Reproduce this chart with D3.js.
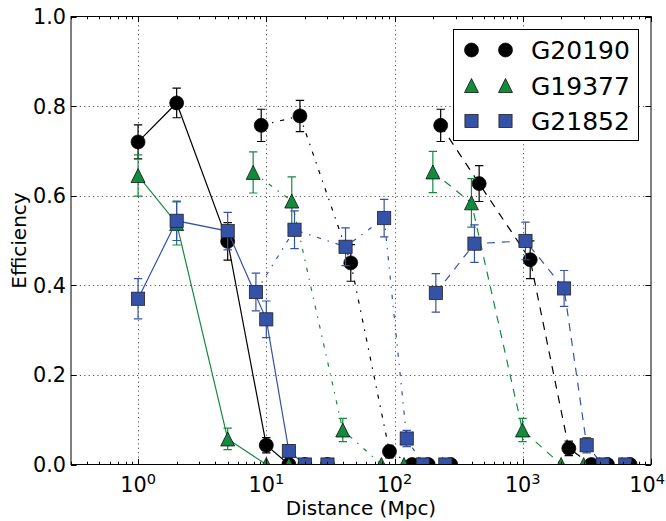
<!DOCTYPE html>
<html>
<head>
<meta charset="utf-8">
<script src="https://cdn.jsdelivr.net/npm/d3@7"></script>
<style>
  html, body { margin: 0; padding: 0; background: #fff; }
  svg { display: block; font-family: "DejaVu Sans", sans-serif; }
</style>
</head>
<body>
<svg id="chart" width="666" height="521"></svg>
<script>
// ---------------- data ----------------
const seriesNames = ["G20190", "G19377", "G21852"];
const xTickValues = [1, 10, 100, 1000, 10000];
const xTickExponents = ["0", "1", "2", "3", "4"];
const yTickValues = [0, 0.2, 0.4, 0.6, 0.8, 1.0];
const yTickLabels = ["0.0", "0.2", "0.4", "0.6", "0.8", "1.0"];

// G20190 (black circles)
const g20190_solid_x   = [1, 2, 5, 10, 15, 20, 30];
const g20190_solid_y   = [0.72, 0.807, 0.498, 0.043, 0, 0, 0];
const g20190_solid_e   = [0.038, 0.033, 0.042, 0.017, 0, 0, 0];
const g20190_dashdot_x = [9.13, 18.3, 45.6, 91.3, 137, 183, 274];
const g20190_dashdot_y = [0.757, 0.778, 0.45, 0.029, 0, 0, 0];
const g20190_dashdot_e = [0.036, 0.035, 0.041, 0.014, 0, 0, 0];
const g20190_dashed_x  = [229, 457, 1143, 2287, 3430, 4574, 6861];
const g20190_dashed_y  = [0.757, 0.627, 0.457, 0.036, 0, 0, 0];
const g20190_dashed_e  = [0.036, 0.04, 0.042, 0.016, 0, 0, 0];

// G19377 (green triangles)
const g19377_solid_x   = [1, 2, 5, 10, 15, 20, 30];
const g19377_solid_y   = [0.645, 0.538, 0.057, 0, 0, 0, 0];
const g19377_solid_e   = [0.046, 0.048, 0.024, 0, 0, 0, 0];
const g19377_dashdot_x = [7.9, 15.8, 39.5, 79, 118.5, 158, 237];
const g19377_dashdot_y = [0.652, 0.588, 0.077, 0, 0, 0, 0];
const g19377_dashdot_e = [0.046, 0.054, 0.026, 0, 0, 0, 0];
const g19377_dashed_x  = [199, 398, 995, 1990, 2985, 3980, 5970];
const g19377_dashed_y  = [0.653, 0.584, 0.077, 0, 0, 0, 0];
const g19377_dashed_e  = [0.046, 0.054, 0.026, 0, 0, 0, 0];

// G21852 (blue squares)
const g21852_solid_x   = [1, 2, 5, 10, 15, 20, 30];
const g21852_solid_y   = [0.37, 0.544, 0.521, 0.324, 0.03, 0, 0];
const g21852_solid_e   = [0.045, 0.044, 0.042, 0.041, 0.014, 0, 0];
const g21852_dashdot_x = [8.3, 16.6, 41.5, 83, 124.5, 166, 249];
const g21852_dashdot_y = [0.385, 0.524, 0.486, 0.55, 0.058, 0, 0];
const g21852_dashdot_e = [0.042, 0.042, 0.042, 0.042, 0.018, 0, 0];
const g21852_dashed_x  = [210, 420, 1050, 2100, 3150, 4200, 6300];
const g21852_dashed_y  = [0.383, 0.493, 0.499, 0.393, 0.043, 0, 0];
const g21852_dashed_e  = [0.043, 0.042, 0.042, 0.04, 0.017, 0, 0];

// ---------------- styling ----------------
const colorOf = { G20190: "#000000", G19377: "#138a3d", G21852: "#3453a8" };
const markerOf = { G20190: "circle", G19377: "triangle", G21852: "square" };
const dashOf = { solid: null, dashdot: "4.2,6.9,1.4,6.9", dashed: "8,7" };

const series = [
  { name: "G20190", style: "solid",   x: g20190_solid_x,   y: g20190_solid_y,   e: g20190_solid_e },
  { name: "G20190", style: "dashdot", x: g20190_dashdot_x, y: g20190_dashdot_y, e: g20190_dashdot_e },
  { name: "G20190", style: "dashed",  x: g20190_dashed_x,  y: g20190_dashed_y,  e: g20190_dashed_e },
  { name: "G19377", style: "solid",   x: g19377_solid_x,   y: g19377_solid_y,   e: g19377_solid_e },
  { name: "G19377", style: "dashdot", x: g19377_dashdot_x, y: g19377_dashdot_y, e: g19377_dashdot_e },
  { name: "G19377", style: "dashed",  x: g19377_dashed_x,  y: g19377_dashed_y,  e: g19377_dashed_e },
  { name: "G21852", style: "solid",   x: g21852_solid_x,   y: g21852_solid_y,   e: g21852_solid_e },
  { name: "G21852", style: "dashdot", x: g21852_dashdot_x, y: g21852_dashdot_y, e: g21852_dashdot_e },
  { name: "G21852", style: "dashed",  x: g21852_dashed_x,  y: g21852_dashed_y,  e: g21852_dashed_e },
];

// ---------------- layout ----------------
const svg = d3.select("#chart");
const L = 71, R = 651, T = 16.5, B = 464.5;

const x = d3.scaleLog().domain([0.3, 10000]).range([L, R]);
const y = d3.scaleLinear().domain([0, 1]).range([B, T]);

svg.append("defs").append("clipPath").attr("id", "clip")
  .append("rect").attr("x", L).attr("y", T).attr("width", R - L).attr("height", B - T);

// grid
const grid = svg.append("g");
xTickValues.forEach(v => {
  const px = Math.round(x(v)) + 0.5;
  if (px > L + 1 && px < R - 1)
    grid.append("line").attr("x1", px).attr("x2", px).attr("y1", T).attr("y2", B)
      .attr("stroke", "#555").attr("stroke-width", 1).attr("stroke-dasharray", "1.2,3.2");
});
yTickValues.forEach(v => {
  const py = Math.round(y(v)) + 0.5;
  if (py > T + 1 && py < B - 1)
    grid.append("line").attr("x1", L).attr("x2", R).attr("y1", py).attr("y2", py)
      .attr("stroke", "#555").attr("stroke-width", 1).attr("stroke-dasharray", "1.2,3.2");
});

// markers
function drawMarker(g, type, cx, cy, color, s) {
  if (type === "circle") {
    g.append("circle").attr("cx", cx).attr("cy", cy).attr("r", s / 2)
      .attr("fill", color).attr("stroke", "#000").attr("stroke-width", 0.7);
  } else if (type === "triangle") {
    const h = s / 2;
    g.append("path").attr("d", `M${cx},${cy - h}L${cx - h},${cy + h}L${cx + h},${cy + h}Z`)
      .attr("fill", color).attr("stroke", "#000").attr("stroke-width", 0.7);
  } else {
    const h = s * 0.47;
    g.append("rect").attr("x", cx - h).attr("y", cy - h).attr("width", 2 * h).attr("height", 2 * h)
      .attr("fill", color).attr("stroke", "#222").attr("stroke-width", 0.8);
  }
}

const dataG = svg.append("g").attr("clip-path", "url(#clip)");
const line = d3.line().x(d => x(d[0])).y(d => y(d[1]));

series.forEach(s => {
  const color = colorOf[s.name];
  const pts = s.x.map((xv, i) => [xv, s.y[i], s.e[i]]);
  const g = dataG.append("g");
  const p = g.append("path").datum(pts).attr("d", line)
    .attr("fill", "none").attr("stroke", color).attr("stroke-width", 1.2);
  if (dashOf[s.style]) p.attr("stroke-dasharray", dashOf[s.style]);
  // error bars
  pts.forEach(d => {
    if (d[2] > 0) {
      const cx = x(d[0]);
      const y1 = y(d[1] - d[2]), y2 = y(d[1] + d[2]);
      g.append("line").attr("x1", cx).attr("x2", cx).attr("y1", y1).attr("y2", y2)
        .attr("stroke", color).attr("stroke-width", 1.2);
      [y1, y2].forEach(yy => g.append("line").attr("x1", cx - 4.2).attr("x2", cx + 4.2)
        .attr("y1", yy).attr("y2", yy).attr("stroke", color).attr("stroke-width", 1.2));
    }
  });
  pts.forEach(d => drawMarker(g, markerOf[s.name], x(d[0]), y(d[1]), color, 14));
});

// frame
svg.append("rect").attr("x", L).attr("y", T).attr("width", R - L).attr("height", B - T)
  .attr("fill", "none").attr("stroke", "#000").attr("stroke-width", 1);

// ticks (inward, all four sides)
const tickG = svg.append("g").attr("stroke", "#000").attr("stroke-width", 1);
const minorX = [];
for (let dec = -1; dec < 4; dec++) {
  for (let m = 2; m <= 9; m++) {
    const v = m * Math.pow(10, dec);
    if (v > 0.3 && v < 10000) minorX.push(v);
  }
}
xTickValues.forEach(v => {
  const px = Math.round(x(v)) + 0.5;
  tickG.append("line").attr("x1", px).attr("x2", px).attr("y1", B).attr("y2", B - 5.6);
  tickG.append("line").attr("x1", px).attr("x2", px).attr("y1", T).attr("y2", T + 5.6);
});
minorX.forEach(v => {
  const px = Math.round(x(v)) + 0.5;
  tickG.append("line").attr("x1", px).attr("x2", px).attr("y1", B).attr("y2", B - 2.8);
  tickG.append("line").attr("x1", px).attr("x2", px).attr("y1", T).attr("y2", T + 2.8);
});
yTickValues.forEach(v => {
  const py = Math.round(y(v)) + 0.5;
  tickG.append("line").attr("x1", L).attr("x2", L + 5.6).attr("y1", py).attr("y2", py);
  tickG.append("line").attr("x1", R).attr("x2", R - 5.6).attr("y1", py).attr("y2", py);
});

// tick labels
yTickValues.forEach((v, i) => {
  svg.append("text").attr("x", 66).attr("y", y(v)).attr("dy", "0.36em")
    .attr("text-anchor", "end").attr("font-size", 20.8).attr("fill", "#000")
    .text(yTickLabels[i]);
});
xTickValues.forEach((v, i) => {
  const last = i === xTickValues.length - 1;
  const t = svg.append("text")
    .attr("x", last ? 665 : x(v)).attr("y", 492)
    .attr("text-anchor", last ? "end" : "middle").attr("font-size", 20.8).attr("fill", "#000");
  t.append("tspan").text("10");
  t.append("tspan").attr("font-size", 14.6).attr("dy", -8).text(xTickExponents[i]);
});

// axis labels
svg.append("text").attr("x", (L + R) / 2).attr("y", 515).attr("text-anchor", "middle")
  .attr("font-size", 20).attr("fill", "#000").text("Distance (Mpc)");
svg.append("text").attr("transform", `translate(26,${(T + B) / 2}) rotate(-90)`)
  .attr("text-anchor", "middle").attr("font-size", 20).attr("fill", "#000").text("Efficiency");

// legend
const lg = svg.append("g");
lg.append("rect").attr("x", 453.5).attr("y", 29.5).attr("width", 185).attr("height", 111)
  .attr("fill", "#fff").attr("stroke", "#000").attr("stroke-width", 1);
const legendRowY = [50, 85.5, 121];
seriesNames.forEach((n, i) => {
  const cy = legendRowY[i];
  drawMarker(lg, markerOf[n], 471.5, cy, colorOf[n], 14);
  drawMarker(lg, markerOf[n], 505.5, cy, colorOf[n], 14);
  lg.append("text").attr("x", 531).attr("y", cy).attr("dy", "0.36em")
    .attr("font-size", 25).attr("fill", "#000").text(n);
});
</script>
</body>
</html>
